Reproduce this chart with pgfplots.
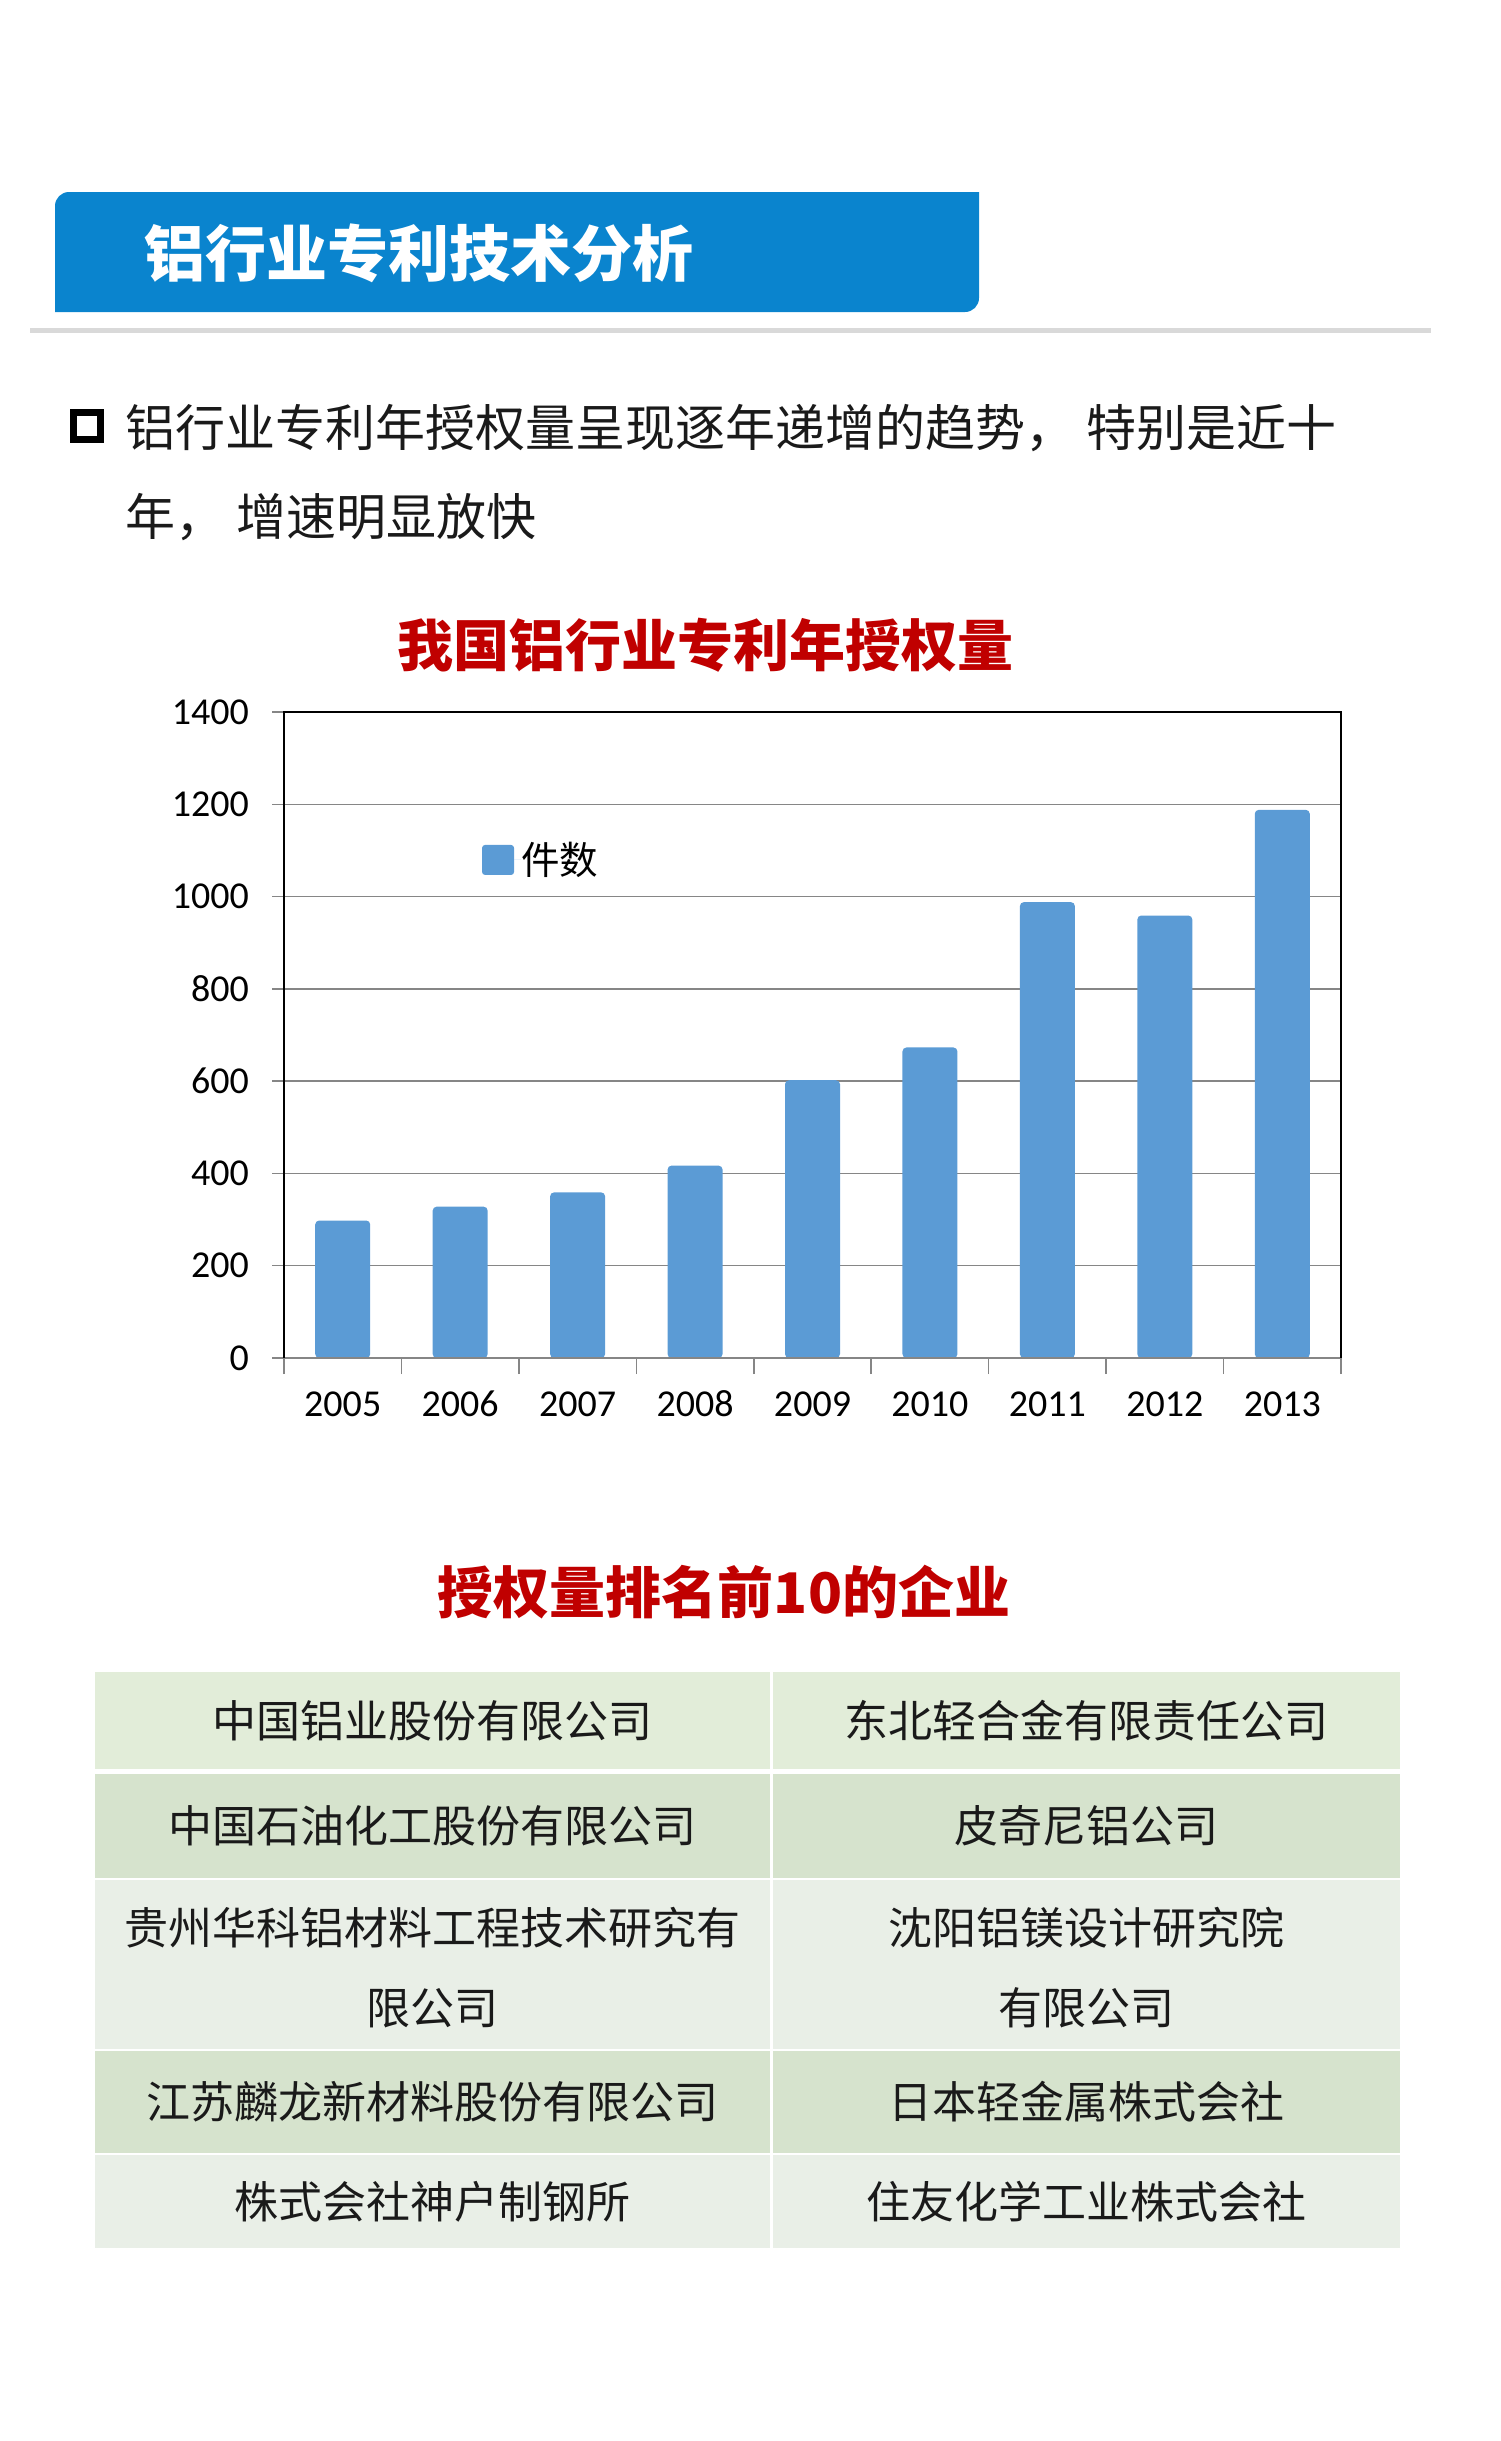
\documentclass[border=0pt]{standalone}
\usepackage{fontspec}
\usepackage{pgfplots}
\pgfplotsset{compat=1.18}
\setmainfont{Carlito}
\newfontfamily\cjk{Noto Sans CJK SC}
\definecolor{hdr}{RGB}{10,132,206}
\definecolor{titlered}{RGB}{192,0,0}
\definecolor{barblue}{RGB}{91,155,213}
\definecolor{gridgray}{RGB}{134,134,134}
\definecolor{linegray}{RGB}{217,217,217}
\definecolor{rowa}{RGB}{226,237,217}
\definecolor{rowb}{RGB}{214,227,205}
\definecolor{rowc}{RGB}{233,239,231}
\definecolor{txt}{RGB}{26,26,26}
\begin{document}
\begin{tikzpicture}
\path[use as bounding box] (0pt,0pt) rectangle (750pt,-1220.5pt);
% header
\fill[hdr] (27.5pt,-156pt) -- (27.5pt,-103pt) arc[start angle=180,end angle=90,radius=7pt] -- (489.5pt,-96pt) -- (489.5pt,-149pt) arc[start angle=0,end angle=-90,radius=7pt] -- cycle;
\node[anchor=west, inner sep=0pt, text=white, font=\cjk\bfseries\fontsize{30.5pt}{36pt}\selectfont] at (72pt,-126.5pt) {铝行业专利技术分析};
\draw[linegray, line width=2.5pt] (15pt,-165pt) -- (715.5pt,-165pt);
% bullet
\draw[black, line width=3.5pt] (36.75pt,-206.25pt) rectangle (50.25pt,-219.75pt);
\node[anchor=west, inner sep=0pt, text=txt, font=\cjk\fontsize{25pt}{30pt}\selectfont] at (62.5pt,-214pt) {铝行业专利年授权量呈现逐年递增的趋势， 特别是近十};
\node[anchor=west, inner sep=0pt, text=txt, font=\cjk\fontsize{25pt}{30pt}\selectfont] at (62.5pt,-258.5pt) {年， 增速明显放快};
% chart title
\node[inner sep=0pt, text=titlered, font=\cjk\bfseries\fontsize{28pt}{34pt}\selectfont] at (352.5pt,-322.5pt) {我国铝行业专利年授权量};
\begin{axis}[
  at={(142pt,-679pt)}, anchor=south west,
  width=528.5pt, height=323pt, scale only axis,
  ybar, bar width=27.5pt,
  xmin=-0.5, xmax=8.5, ymin=0, ymax=1400,
  xtick={0,1,2,3,4,5,6,7,8},
  xticklabels={2005,2006,2007,2008,2009,2010,2011,2012,2013},
  minor xtick={-0.5,0.5,1.5,2.5,3.5,4.5,5.5,6.5,7.5,8.5},
  ytick={0,200,400,600,800,1000,1200,1400},
  ymajorgrids, major grid style={color=gridgray, line width=0.75pt},
  tick pos=left, tick align=outside,
  major tick length=6pt, minor tick length=8pt,
  major x tick style={draw=none},
  minor x tick style={color=gridgray, line width=0.75pt},
  major y tick style={color=gridgray, line width=0.75pt},
  axis line style={draw=none},
  tick label style={font=\fontsize{19pt}{23pt}\selectfont, text=black},
  yticklabel style={xshift=-8pt},
  xticklabel style={yshift=-7pt, text height=12.5pt, text depth=0pt},
  /pgf/number format/assume math mode=true,
  /pgf/number format/1000 sep={},
  clip=false,
  legend style={at={(0.187,0.771)}, anchor=west, draw=none, fill=none, inner sep=0pt,
    nodes={inner sep=0pt, anchor=west}, font=\cjk\fontsize{19.25pt}{23pt}\selectfont},
]
\addplot[fill=barblue, draw=none, rounded corners=2pt,
  legend image code/.code={\fill[barblue, rounded corners=1.5pt] (0pt,-7.5pt) rectangle (16pt,7.5pt); \path (0pt,0pt) -- (19.5pt,0pt);}]
  coordinates {(0,298) (1,328) (2,359) (3,417) (4,602) (5,673) (6,988) (7,959) (8,1188)};
\addlegendentry{件数}
\draw[gridgray, line width=0.9pt] (rel axis cs:0,0) -- (rel axis cs:1,0);
\draw[black, line width=0.9pt] (rel axis cs:0,0) -- (rel axis cs:0,1) -- (rel axis cs:1,1) -- (rel axis cs:1,0);
\end{axis}
% second title
\node[inner sep=0pt, text=titlered, font=\cjk\bfseries\fontsize{28pt}{34pt}\selectfont] at (362pt,-796pt) {授权量排名前10的企业};
% table
\fill[rowa] (47.5pt,-836pt) rectangle (385pt,-884.5pt);
\fill[rowa] (386.5pt,-836pt) rectangle (700pt,-884.5pt);
\fill[rowb] (47.5pt,-887pt) rectangle (385pt,-939pt);
\fill[rowb] (386.5pt,-887pt) rectangle (700pt,-939pt);
\fill[rowc] (47.5pt,-940pt) rectangle (385pt,-1024.5pt);
\fill[rowc] (386.5pt,-940pt) rectangle (700pt,-1024.5pt);
\fill[rowb] (47.5pt,-1025.5pt) rectangle (385pt,-1076.5pt);
\fill[rowb] (386.5pt,-1025.5pt) rectangle (700pt,-1076.5pt);
\fill[rowc] (47.5pt,-1077.5pt) rectangle (385pt,-1124pt);
\fill[rowc] (386.5pt,-1077.5pt) rectangle (700pt,-1124pt);
\begin{scope}[every node/.style={inner sep=0pt, text=txt, align=center, font=\cjk\fontsize{22pt}{40pt}\selectfont}]
\node at (216.25pt,-860.25pt) {中国铝业股份有限公司};
\node at (543.25pt,-860.25pt) {东北轻合金有限责任公司};
\node at (216.25pt,-913pt) {中国石油化工股份有限公司};
\node at (543.25pt,-913pt) {皮奇尼铝公司};
\node at (216.25pt,-984pt) {贵州华科铝材料工程技术研究有\\限公司};
\node at (543.25pt,-984pt) {沈阳铝镁设计研究院\\有限公司};
\node at (216.25pt,-1051pt) {江苏麟龙新材料股份有限公司};
\node at (543.25pt,-1051pt) {日本轻金属株式会社};
\node at (216.25pt,-1100.75pt) {株式会社神户制钢所};
\node at (543.25pt,-1100.75pt) {住友化学工业株式会社};
\end{scope}
\end{tikzpicture}
\end{document}
